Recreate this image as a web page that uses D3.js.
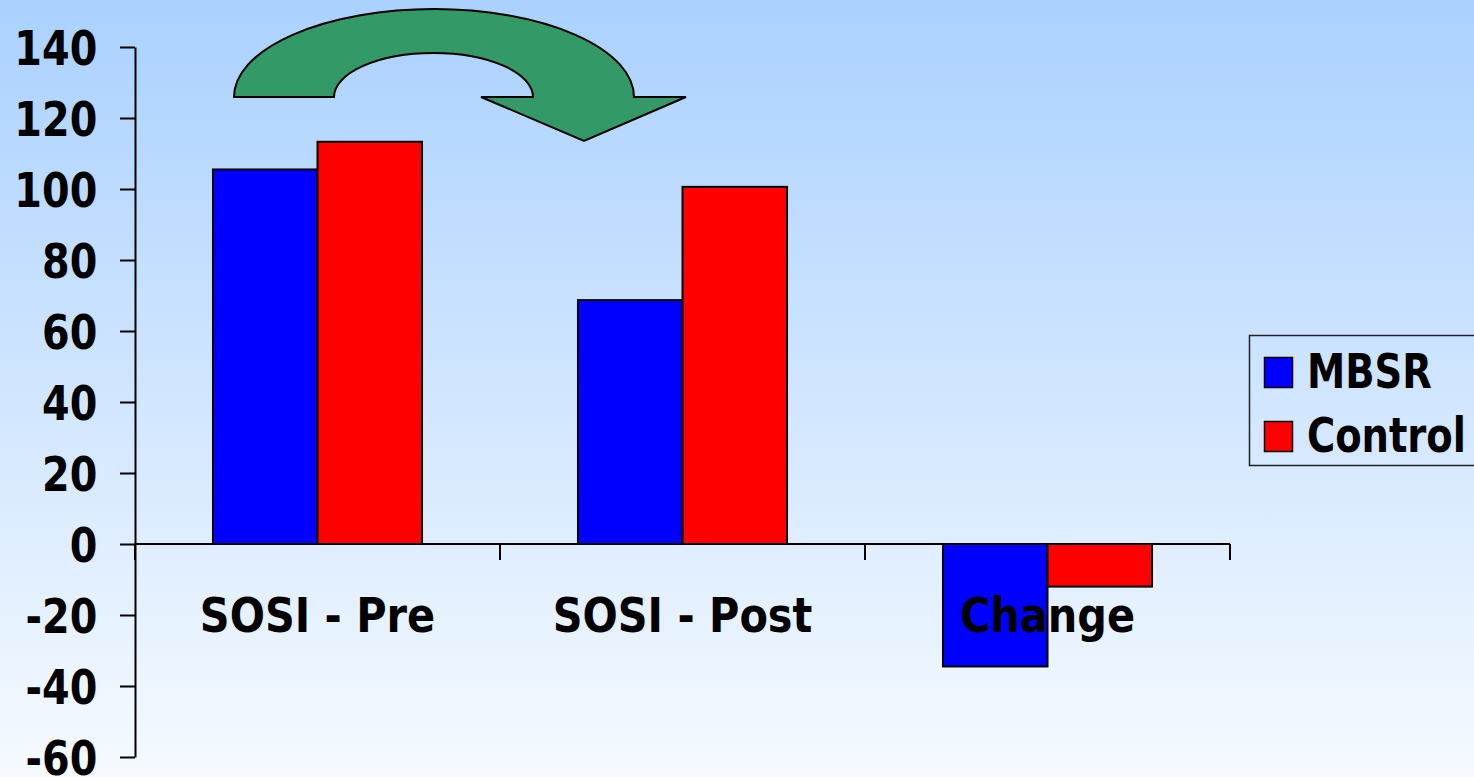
<!DOCTYPE html>
<html>
<head>
<meta charset="utf-8">
<script src="https://cdn.jsdelivr.net/npm/d3@7"></script>
<style>
  html, body { margin: 0; padding: 0; overflow: hidden; }
  svg { display: block; }
  text { font-family: "DejaVu Sans Condensed", "DejaVu Sans", sans-serif; font-weight: bold; fill: #000; }
</style>
</head>
<body>
<svg id="chart" width="1474" height="777"></svg>
<script>
// Scores by measure and group
const categories = ["SOSI - Pre", "SOSI - Post", "Change"];
const seriesNames = ["MBSR", "Control"];
const mbsrValues = [105.5, 68.7, -34.5];
const controlValues = [113.3, 100.6, -12.0];
const yTickValues = [-60, -40, -20, 0, 20, 40, 60, 80, 100, 120, 140];
const seriesColors = ["#0000ff", "#ff0000"];

const W = 1474, H = 777;
const FONT_SIZE = 48;
const svg = d3.select("#chart");

// Soft blue vertical gradient behind everything
const defs = svg.append("defs");
const grad = defs.append("linearGradient")
  .attr("id", "bg").attr("x1", 0).attr("y1", 0).attr("x2", 0).attr("y2", 1);
grad.append("stop").attr("offset", "0%").attr("stop-color", "#aad1ff");
grad.append("stop").attr("offset", "100%").attr("stop-color", "#f6faff");
svg.append("rect").attr("width", W).attr("height", H).attr("fill", "url(#bg)");

// Scales
const y = d3.scaleLinear().domain([-60, 140]).range([757, 47]);
const x = d3.scaleBand().domain(categories).range([135, 1230]).padding(0);
const xs = d3.scaleBand().domain(seriesNames).range([0, x.bandwidth()])
  .paddingInner(0).paddingOuter(0.746);

const rows = categories.map((c, i) => ({
  category: c,
  values: [
    { series: seriesNames[0], value: mbsrValues[i] },
    { series: seriesNames[1], value: controlValues[i] }
  ]
}));
const color = d3.scaleOrdinal().domain(seriesNames).range(seriesColors);

// Bars
const groups = svg.append("g").selectAll("g")
  .data(rows).join("g")
  .attr("transform", d => `translate(${x(d.category)},0)`);
groups.selectAll("rect")
  .data(d => d.values).join("rect")
  .attr("x", d => xs(d.series))
  .attr("width", xs.bandwidth())
  .attr("y", d => y(Math.max(0, d.value)))
  .attr("height", d => Math.abs(y(d.value) - y(0)))
  .attr("fill", d => color(d.series))
  .attr("stroke", "#000")
  .attr("stroke-width", 2);

// Y axis (plain hyphen for negatives)
const labelSqueeze = 0.92;
const yAxis = svg.append("g")
  .attr("transform", `translate(${x.range()[0]},0)`)
  .call(d3.axisLeft(y)
    .tickValues(yTickValues)
    .tickFormat(d => String(d))
    .tickSize(15).tickSizeOuter(0).tickPadding(26));
yAxis.select(".domain").attr("stroke", "#000").attr("stroke-width", 2);
yAxis.selectAll(".tick line").attr("stroke", "#000").attr("stroke-width", 2);
yAxis.selectAll(".tick text")
  .attr("font-size", FONT_SIZE)
  .attr("font-family", "DejaVu Sans Condensed, DejaVu Sans, sans-serif")
  .attr("font-weight", "bold")
  .attr("fill", "#000")
  .attr("dy", "0.36em")
  .attr("transform", `scale(${labelSqueeze},1)`);

// X axis along zero, with ticks at the category boundaries
const y0 = y(0);
const xAxis = svg.append("g");
xAxis.append("line")
  .attr("x1", x.range()[0]).attr("x2", x.range()[1])
  .attr("y1", y0).attr("y2", y0)
  .attr("stroke", "#000").attr("stroke-width", 2);
const boundaries = categories.map(c => x(c)).concat([x.range()[1]]);
xAxis.selectAll("line.tick").data(boundaries).join("line")
  .attr("class", "tick")
  .attr("x1", d => d).attr("x2", d => d)
  .attr("y1", y0).attr("y2", y0 + 16)
  .attr("stroke", "#000").attr("stroke-width", 2);

// Category labels, drawn over the bars
svg.append("g").selectAll("text")
  .data(categories).join("text")
  .attr("transform", d => `translate(${x(d) + x.bandwidth() / 2},632) scale(0.96,1)`)
  .attr("text-anchor", "middle")
  .attr("font-size", FONT_SIZE)
  .text(d => d);

// Curved arrow pointing from the pre scores to the post scores
const arrowBase = 97;
const arrowPath = [
  `M234,${arrowBase}`,
  `A200,88 0 0 1 634,${arrowBase}`,
  `L686,${arrowBase}`,
  `L584,141`,
  `L481,${arrowBase}`,
  `L533,${arrowBase}`,
  `A99.5,44 0 0 0 334,${arrowBase}`,
  "Z"
].join(" ");
svg.append("path")
  .attr("d", arrowPath)
  .attr("fill", "#339966")
  .attr("stroke", "#000")
  .attr("stroke-width", 2)
  .attr("stroke-linejoin", "miter");

// Legend
const legend = svg.append("g");
legend.append("rect")
  .attr("x", 1249.5).attr("y", 335.5)
  .attr("width", 260).attr("height", 130)
  .attr("fill", "none")
  .attr("stroke", "#222").attr("stroke-width", 1.5);
const legendItems = legend.selectAll("g.item")
  .data(seriesNames).join("g")
  .attr("class", "item")
  .attr("transform", (d, i) => `translate(0,${i * 64})`);
legendItems.append("rect")
  .attr("x", 1264.5).attr("y", 357.5)
  .attr("width", 28).attr("height", 30)
  .attr("fill", d => color(d))
  .attr("stroke", "#000").attr("stroke-width", 1.5);
legendItems.append("text")
  .attr("transform", "translate(1307,388) scale(0.89,1)")
  .attr("font-size", FONT_SIZE)
  .text(d => d);
</script>
</body>
</html>
